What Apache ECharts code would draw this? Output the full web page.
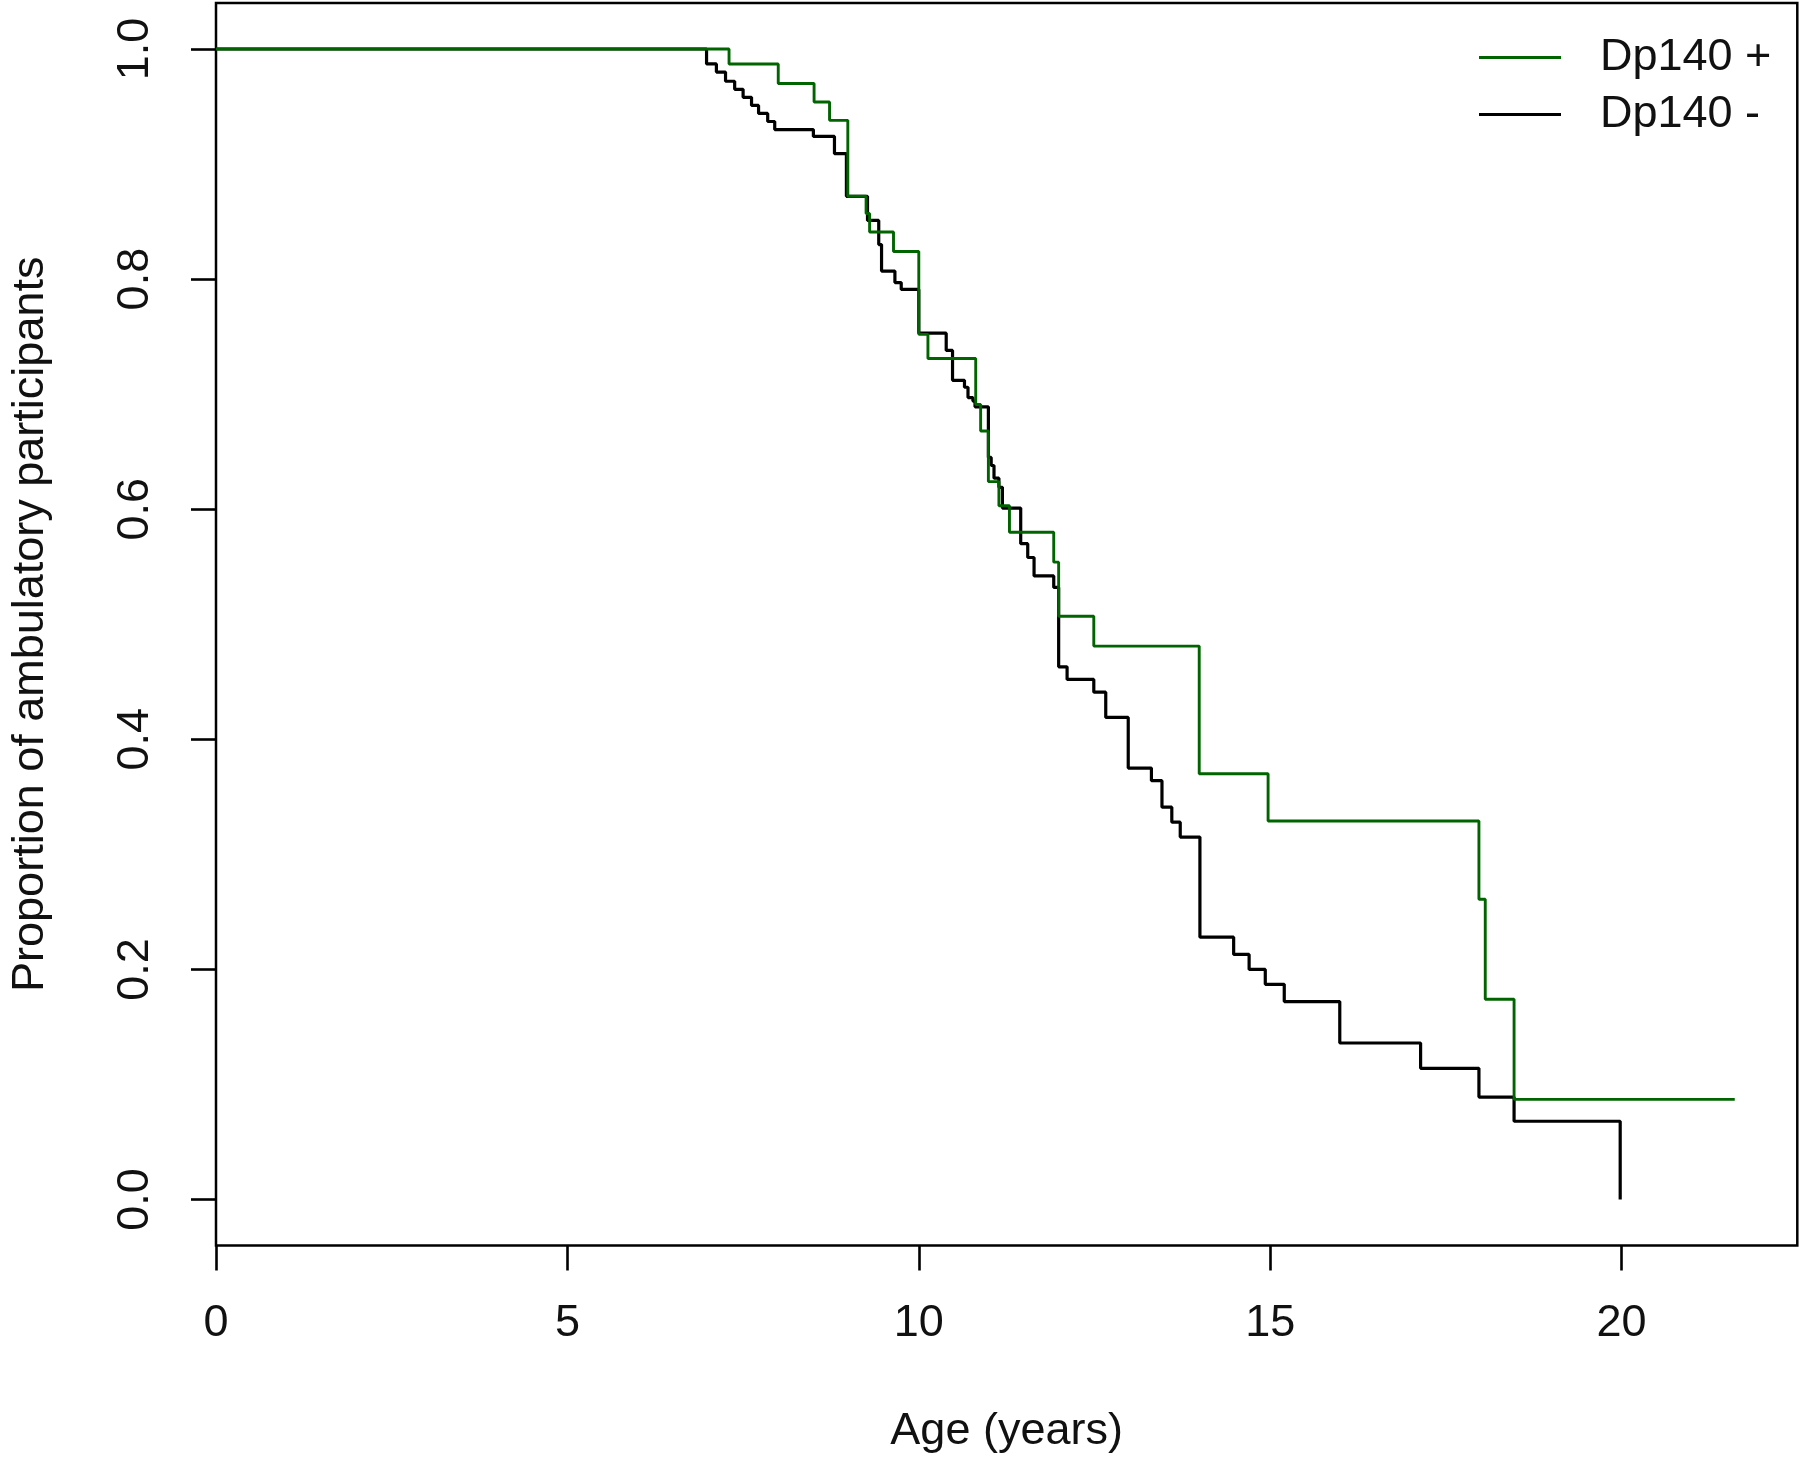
<!DOCTYPE html>
<html>
<head>
<meta charset="utf-8">
<script src="https://cdn.jsdelivr.net/npm/echarts@6/dist/echarts.min.js"></script>
<style>
html,body{margin:0;padding:0;background:#fff;}
#chart{width:1803px;height:1460px;}
</style>
</head>
<body>
<div id="chart"></div>
<script>
// ---- data ----
const seriesNames = ['Dp140 +', 'Dp140 -'];
const ageTicks = [0, 5, 10, 15, 20];
const propTicks = [0, 0.2, 0.4, 0.6, 0.8, 1.0];

// Dp140 + : event ages and survival proportion after each step
const plusAge  = [0, 7.30, 8.00, 8.51, 8.73, 8.99, 9.25, 9.30, 9.64, 10.00, 10.13, 10.81, 10.88, 10.99, 11.14, 11.29, 11.92, 11.99, 12.49, 13.99, 14.97, 17.97, 18.06, 18.47, 21.61];
const plusProp = [1.0, 0.987, 0.970, 0.954, 0.938, 0.872, 0.857, 0.841, 0.824, 0.752, 0.731, 0.691, 0.668, 0.624, 0.603, 0.580, 0.554, 0.507, 0.481, 0.370, 0.329, 0.261, 0.174, 0.087, 0.087];

// Dp140 - : event ages and survival proportion after each step
const minusAge  = [0, 6.98, 7.12, 7.25, 7.38, 7.50, 7.62, 7.72, 7.85, 7.95, 8.50, 8.80, 8.97, 9.27, 9.43, 9.47, 9.66, 9.75, 10.00, 10.39, 10.48, 10.65, 10.70, 10.77, 10.80, 10.99, 11.03, 11.07, 11.14, 11.19, 11.45, 11.55, 11.64, 11.92, 11.99, 12.11, 12.49, 12.66, 12.98, 13.31, 13.46, 13.60, 13.72, 14.00, 14.48, 14.70, 14.93, 15.20, 15.99, 17.14, 17.97, 18.47, 19.98];
const minusProp = [1.0, 0.987, 0.980, 0.972, 0.965, 0.958, 0.951, 0.944, 0.937, 0.930, 0.924, 0.909, 0.872, 0.851, 0.830, 0.807, 0.797, 0.791, 0.753, 0.738, 0.712, 0.706, 0.697, 0.694, 0.689, 0.645, 0.638, 0.627, 0.619, 0.601, 0.570, 0.558, 0.542, 0.532, 0.463, 0.452, 0.441, 0.419, 0.375, 0.364, 0.341, 0.328, 0.315, 0.228, 0.213, 0.200, 0.187, 0.172, 0.136, 0.114, 0.089, 0.068, 0.0];

const zip = (a, b) => a.map((x, i) => [x, b[i]]);

const FONT = 'Liberation Sans, Arial, sans-serif';
const GREEN = '#006400';
const BLACK = '#000000';

const chart = echarts.init(document.getElementById('chart'), null, {renderer: 'canvas'});
chart.setOption({
  animation: false,
  backgroundColor: '#ffffff',
  grid: {
    left: 210.7, right: 5.7, top: 3, bottom: 214.5,
    show: true, borderColor: '#000', borderWidth: 2.5, backgroundColor: 'transparent'
  },
  legend: {
    data: seriesNames,
    orient: 'vertical',
    left: 1474, top: 30,
    icon: 'rect',
    itemWidth: 82, itemHeight: 3, itemGap: 12,
    textStyle: {fontFamily: FONT, fontSize: 45, color: '#111', padding: [0, 0, 0, 34]},
    inactiveColor: '#ccc'
  },
  xAxis: {
    type: 'value', min: 0, max: 22.5, interval: 5,
    name: 'Age (years)', nameLocation: 'middle', nameGap: 164,
    nameTextStyle: {fontFamily: FONT, fontSize: 45, color: '#111'},
    axisLine: {show: false, onZero: false},
    axisTick: {show: true, length: 25, lineStyle: {color: '#000', width: 2.6}, customValues: ageTicks},
    axisLabel: {fontFamily: FONT, fontSize: 45, color: '#111', margin: 56, customValues: ageTicks,
      formatter: v => String(v)},
    splitLine: {show: false}
  },
  yAxis: {
    type: 'value', min: -0.04, max: 1.04,
    name: 'Proportion of ambulatory participants', nameLocation: 'middle', nameGap: 163,
    nameTextStyle: {fontFamily: FONT, fontSize: 45, color: '#111'},
    axisLine: {show: false, onZero: false},
    axisTick: {show: true, length: 25, lineStyle: {color: '#000', width: 2.6}, customValues: propTicks},
    axisLabel: {fontFamily: FONT, fontSize: 45, color: '#111', margin: 58, rotate: 90, customValues: propTicks,
      formatter: v => Number(v).toFixed(1)},
    splitLine: {show: false}
  },
  series: [
    {
      name: 'Dp140 -', type: 'line', step: 'end', symbol: 'none',
      data: zip(minusAge, minusProp),
      lineStyle: {color: BLACK, width: 3.2}, itemStyle: {color: BLACK}, z: 2
    },
    {
      name: 'Dp140 +', type: 'line', step: 'end', symbol: 'none',
      data: zip(plusAge, plusProp),
      lineStyle: {color: GREEN, width: 2.9}, itemStyle: {color: GREEN}, z: 3
    }
  ]
});
</script>
</body>
</html>
